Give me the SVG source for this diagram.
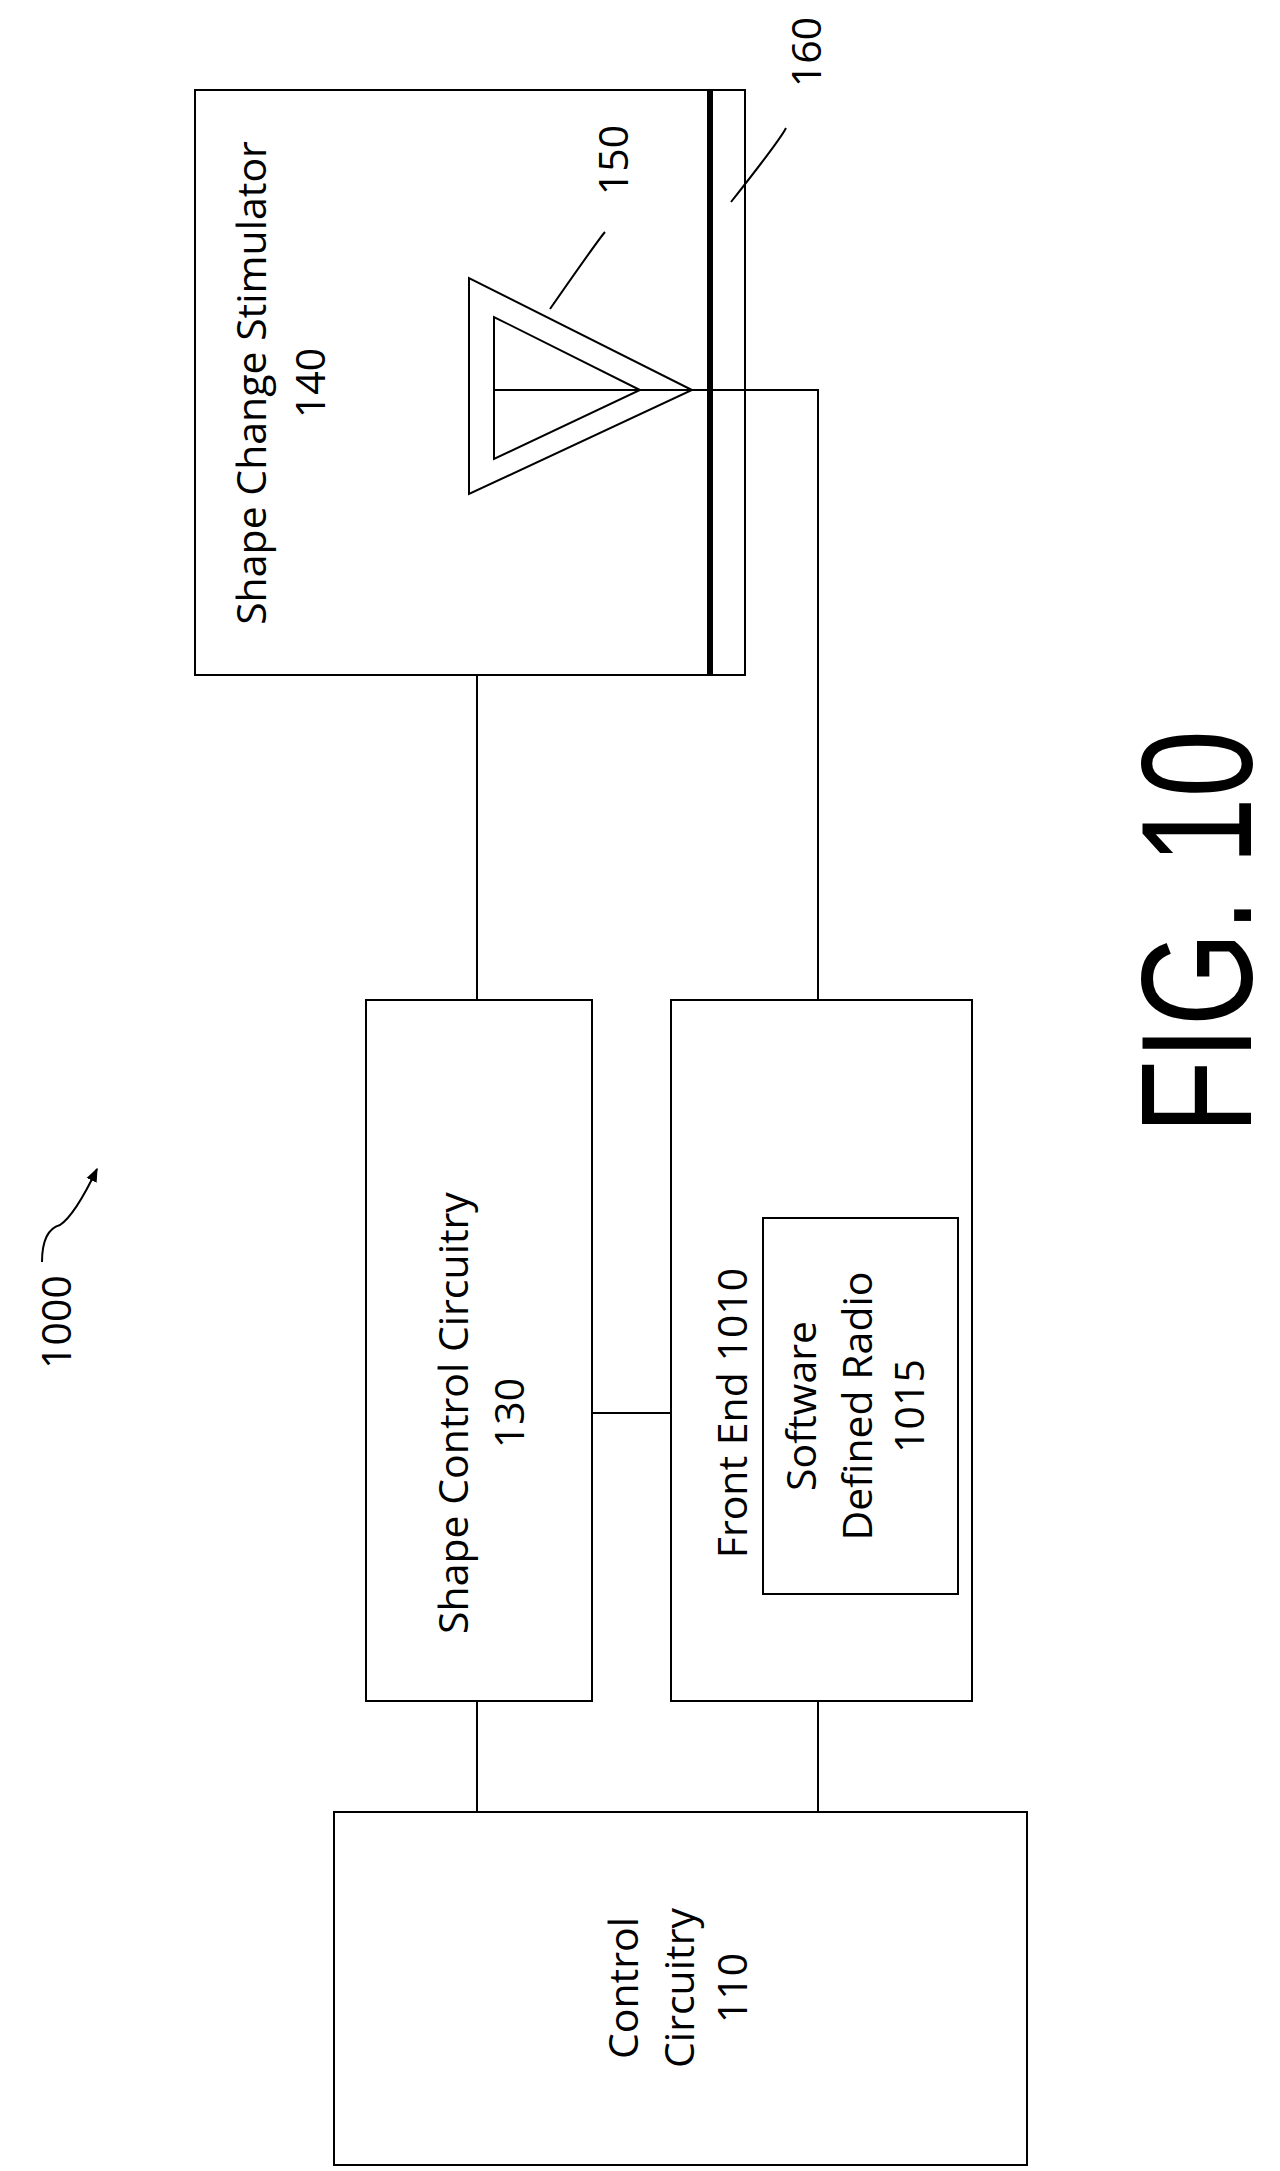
<svg xmlns="http://www.w3.org/2000/svg" width="1280" height="2171" viewBox="0 0 1280 2171">
<style>
.b{fill:none;stroke:#000;stroke-width:2}
.t{font-family:"Open Sans","Liberation Sans",sans-serif;font-size:41px;text-anchor:middle;dominant-baseline:central;fill:#000}
</style>
<defs><marker id="ah" viewBox="0 0 10 10" refX="9" refY="5" markerWidth="7" markerHeight="7" orient="auto"><path d="M0,1 L10,5 L0,9 z" fill="#000"/></marker></defs>
<rect width="1280" height="2171" fill="#fff"/>
<g id="connectors" class="b">
<path d="M477,675 V1000"/><path d="M477,1701 V1812"/><path d="M818,1701 V1812"/>
<path d="M592,1413 H671"/><path d="M692,390 H818 V1000"/>
<path d="M605,232 Q598,240 550,309"/><path d="M786,128 Q780,140 731,202"/>
<path d="M42,1262 Q42,1230 60,1225 Q75,1215 97,1169" marker-end="url(#ah)"/>
</g>
<g id="stimulator">
<rect class="b" x="195" y="90" width="550" height="585"/>
<line x1="710" y1="90" x2="710" y2="675" stroke="#000" stroke-width="6"/>
<text class="t" transform="translate(250,383) rotate(-90)">Shape Change Stimulator</text>
<text class="t" transform="translate(309,383) rotate(-90)">140</text>
</g>
<g id="antenna150">
<polygon class="b" points="469,278 469,494 692,390"/>
<polygon class="b" points="494,317 494,459 640,390"/>
<line class="b" x1="494" y1="390" x2="692" y2="390"/>
<text class="t" transform="translate(612,160) rotate(-90)">150</text>
</g>
<g id="label160"><text class="t" transform="translate(805,52) rotate(-90)">160</text></g>
<g id="shapecontrol">
<rect class="b" x="366" y="1000" width="226" height="701"/>
<text class="t" transform="translate(452,1413) rotate(-90)">Shape Control Circuitry</text>
<text class="t" transform="translate(508,1413) rotate(-90)">130</text>
</g>
<g id="frontend">
<rect class="b" x="671" y="1000" width="301" height="701"/>
<text class="t" transform="translate(731,1413) rotate(-90)">Front End 1010</text>
</g>
<g id="sdr">
<rect class="b" x="763" y="1218" width="195" height="376"/>
<text class="t" transform="translate(800,1406) rotate(-90)">Software</text>
<text class="t" transform="translate(856,1406) rotate(-90)">Defined Radio</text>
<text class="t" transform="translate(908,1406) rotate(-90)">1015</text>
</g>
<g id="control">
<rect class="b" x="334" y="1812" width="693" height="353"/>
<text class="t" transform="translate(622,1988) rotate(-90)">Control</text>
<text class="t" transform="translate(678,1988) rotate(-90)">Circuitry</text>
<text class="t" transform="translate(731,1988) rotate(-90)">110</text>
</g>
<g id="label1000"><text class="t" transform="translate(55,1322) rotate(-90)">1000</text></g>
<text transform="translate(1196,932) rotate(-90)" font-family="Liberation Sans,sans-serif" font-size="158" text-anchor="middle" dominant-baseline="central" textLength="404" lengthAdjust="spacingAndGlyphs">FIG. 10</text>
</svg>
